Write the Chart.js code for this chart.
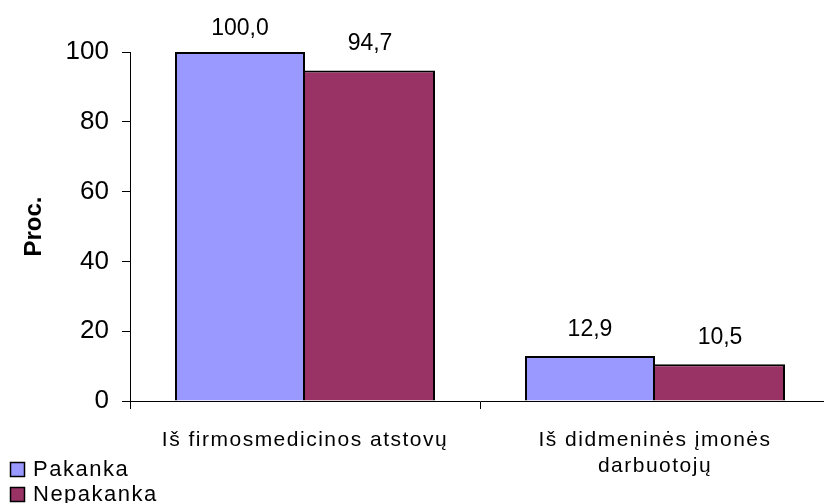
<!DOCTYPE html>
<html>
<head>
<meta charset="utf-8">
<script src="https://cdn.jsdelivr.net/npm/chart.js@4"></script>
<style>
  html, body { margin: 0; padding: 0; background: #fff; overflow: hidden; }
  #wrap { width: 824px; height: 503px; overflow: hidden; }
  canvas { display: block; }
</style>
</head>
<body>
<div id="wrap"><canvas id="c" width="830" height="503"></canvas></div>
<script>
const categories = [
  'Iš firmosmedicinos atstovų',
  ['Iš didmeninės įmonės', 'darbuotojų']
];
const seriesNames = ['Pakanka', 'Nepakanka'];
const pakanka = [100.0, 12.9];
const nepakanka = [94.7, 10.5];
const yTicks = [0, 20, 40, 60, 80, 100];

const colors = ['#9999FF', '#993366'];
const FONT = '"Liberation Sans", Arial, sans-serif';

const fmt = v => v.toFixed(1).replace('.', ',');

// value labels above each bar, plus a small two-row key at the bottom left
const decorations = {
  id: 'decorations',
  beforeDraw(chart) {
    chart.ctx.letterSpacing = '0px';
  },
  afterDatasetsDraw(chart) {
    const ctx = chart.ctx;
    const top = chart.chartArea.top;
    ctx.save();
    ctx.letterSpacing = '0px';
    ctx.font = '23px ' + FONT;
    ctx.fillStyle = '#000';
    ctx.textAlign = 'center';
    ctx.textBaseline = 'alphabetic';
    chart.data.datasets.forEach((ds, di) => {
      chart.getDatasetMeta(di).data.forEach((bar, i) => {
        const y = Math.max(bar.y - 20, top - 17);
        ctx.fillText(fmt(ds.data[i]), bar.x, y);
      });
    });
    ctx.restore();
    // category labels drawn after this point get a slightly wider tracking
    ctx.letterSpacing = '1.5px';
  },
  afterDraw(chart) {
    const ctx = chart.ctx;
    ctx.letterSpacing = '0px';
    ctx.save();
    ctx.font = '22px ' + FONT;
    ctx.letterSpacing = '1.5px';
    ctx.textBaseline = 'alphabetic';
    ctx.textAlign = 'left';
    chart.data.datasets.forEach((ds, di) => {
      const rowY = 462.5 + di * 25;
      ctx.fillStyle = ds.backgroundColor;
      ctx.fillRect(10.5, rowY, 14, 14);
      ctx.strokeStyle = '#000';
      ctx.lineWidth = 1.5;
      ctx.strokeRect(10.5, rowY, 14, 14);
      ctx.fillStyle = '#000';
      ctx.fillText(ds.label, 33, rowY + 13);
    });
    ctx.restore();
  }
};

new Chart(document.getElementById('c'), {
  type: 'bar',
  data: {
    labels: categories,
    datasets: [
      {
        label: seriesNames[0],
        data: pakanka,
        backgroundColor: colors[0],
        borderColor: '#000',
        borderWidth: { top: 2, left: 2, right: 2, bottom: 0 },
        borderSkipped: false
      },
      {
        label: seriesNames[1],
        data: nepakanka,
        backgroundColor: colors[1],
        borderColor: '#000',
        borderWidth: { top: 2, left: 0, right: 2, bottom: 0 },
        borderSkipped: false
      }
    ]
  },
  options: {
    responsive: false,
    animation: false,
    devicePixelRatio: 1,
    categoryPercentage: 0.743,
    barPercentage: 1.0,
    layout: { padding: { top: 52, right: 0, bottom: 0, left: 0 } },
    plugins: {
      legend: { display: false },
      tooltip: { enabled: false }
    },
    scales: {
      x: {
        grid: {
          display: true,
          drawOnChartArea: false,
          drawTicks: true,
          tickLength: 8,
          color: '#000',
          offset: true
        },
        border: { display: true, color: '#000', width: 1 },
        ticks: {
          z: 1,
          color: '#000',
          padding: 18,
          maxRotation: 0,
          autoSkip: false,
          font: { family: FONT, size: 21, lineHeight: 1.25 }
        },
        afterFit(scale) { scale.height = 102; }
      },
      y: {
        min: 0,
        max: 100,
        afterBuildTicks(scale) { scale.ticks = yTicks.map(v => ({ value: v })); },
        grid: {
          display: true,
          drawOnChartArea: false,
          drawTicks: true,
          tickLength: 8,
          color: '#000'
        },
        border: { display: true, color: '#000', width: 1 },
        ticks: {
          color: '#000',
          padding: 13,
          font: { family: FONT, size: 26 }
        },
        title: {
          display: true,
          text: 'Proc.',
          color: '#000',
          padding: { top: 20, bottom: 0 },
          font: { family: FONT, size: 24, weight: 'bold' }
        },
        afterFit(scale) { scale.width = 130; }
      }
    }
  },
  plugins: [decorations]
});
</script>
</body>
</html>
